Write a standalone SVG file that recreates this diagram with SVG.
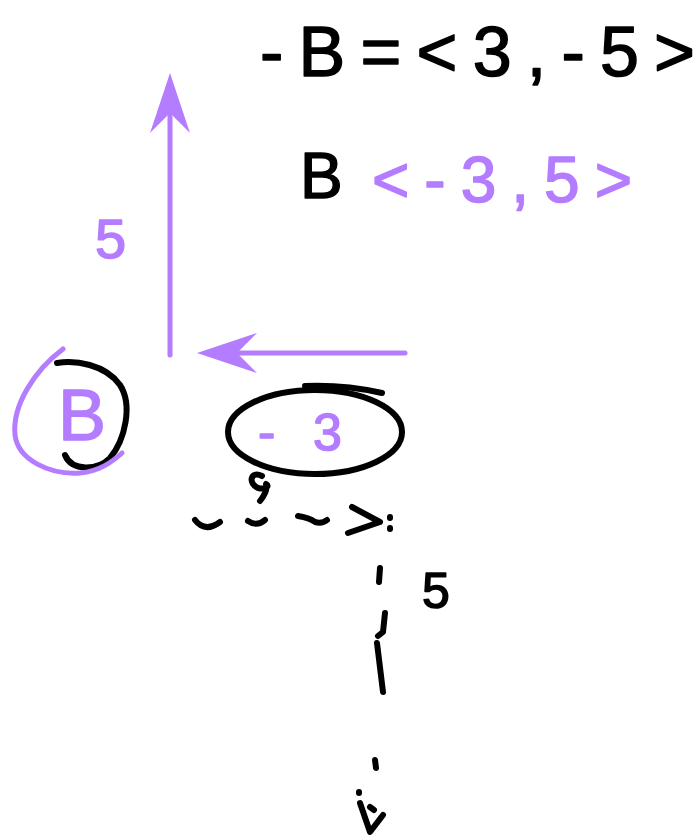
<svg xmlns="http://www.w3.org/2000/svg" width="698" height="838" viewBox="0 0 698 838">
<style>
.bk{fill:none;stroke:#000;stroke-width:6;stroke-linecap:round;stroke-linejoin:round}
.pp{fill:none;stroke:#B47CFF;stroke-width:5;stroke-linecap:round;stroke-linejoin:round}
.tb{font-family:"Liberation Sans",Arial,sans-serif;fill:#000;stroke:#000;stroke-width:1.5;stroke-linejoin:round}
.tp{font-family:"Liberation Sans",Arial,sans-serif;fill:#B47CFF;stroke:#B47CFF;stroke-width:1.5;stroke-linejoin:round}
</style>
<defs>
<marker id="ah" markerUnits="userSpaceOnUse" viewBox="-22 -22 64 44" refX="0" refY="0" markerWidth="64" markerHeight="44" orient="auto">
<path d="M40,0 L-20,-20 L0,0 L-20,20 Z" fill="#B47CFF"/>
</marker>
</defs>
<rect width="698" height="838" fill="#fff"/>
<g id="connectors">
<path class="pp" d="M170,355 L170,113" marker-end="url(#ah)"/>
<path class="pp" d="M405,353 L237,353" marker-end="url(#ah)"/>
<g id="dashed-right">
<path class="bk" d="M262,476 C250,470 248,484 258,488 C266,490 270,486 266,484 C268,490 264,496 260,501"/>
<path class="bk" d="M195,520 Q205,533 220,522"/>
<path class="bk" d="M248,521 Q257,527 265,520"/>
<path class="bk" d="M298,516 Q310,518 315,522 Q322,524 327,520"/>
<path class="bk" d="M352,507 L380,522 L348,533"/>
<path class="bk" d="M390,517 L390,518 M390,528 L390,529"/>
</g>
<g id="dashed-down">
<path class="bk" d="M380,568 L379,582"/>
<path class="bk" d="M385,613 L383,632 L378,636"/>
<path class="bk" d="M377,643 L383,692"/>
<path class="bk" d="M375,760 L376,768"/>
<path class="bk" d="M359,792 L359,793"/>
<path class="bk" d="M360,803 L370,832 L383,815"/>
<path class="bk" d="M370,807 L374,810"/>
</g>
</g>
<g id="eq-neg-b">
<text class="tb" x="260" y="76" font-size="70" textLength="435" lengthAdjust="spacing">-B=&lt;3,-5&gt;</text>
</g>
<g id="eq-b">
<text class="tb" x="300" y="198" font-size="64">B</text>
<text class="tp" x="372" y="202" font-size="64" textLength="260" lengthAdjust="spacing">&lt;-3,5&gt;</text>
</g>
<g id="label-5-purple">
<text class="tp" x="95" y="258" font-size="56">5</text>
</g>
<g id="node-b">
<path class="bk" d="M57,363 C75,360 105,364 120,385 C133,405 125,440 110,458 C98,470 72,472 65,455"/>
<path class="pp" d="M63,349 C35,370 12,405 15,435 C18,460 50,475 80,473 C100,471 112,462 122,453"/>
<text class="tp" x="58" y="440" font-size="72">B</text>
</g>
<g id="node-neg3">
<ellipse class="bk" cx="315" cy="432" rx="87" ry="42"/>
<path class="bk" d="M305,386 C330,385 360,388 382,393"/>
<text class="tp" x="258" y="450" font-size="52" textLength="84" lengthAdjust="spacing">-3</text>
</g>
<g id="label-5-black">
<text class="tb" x="422" y="608" font-size="50">5</text>
</g>
</svg>
